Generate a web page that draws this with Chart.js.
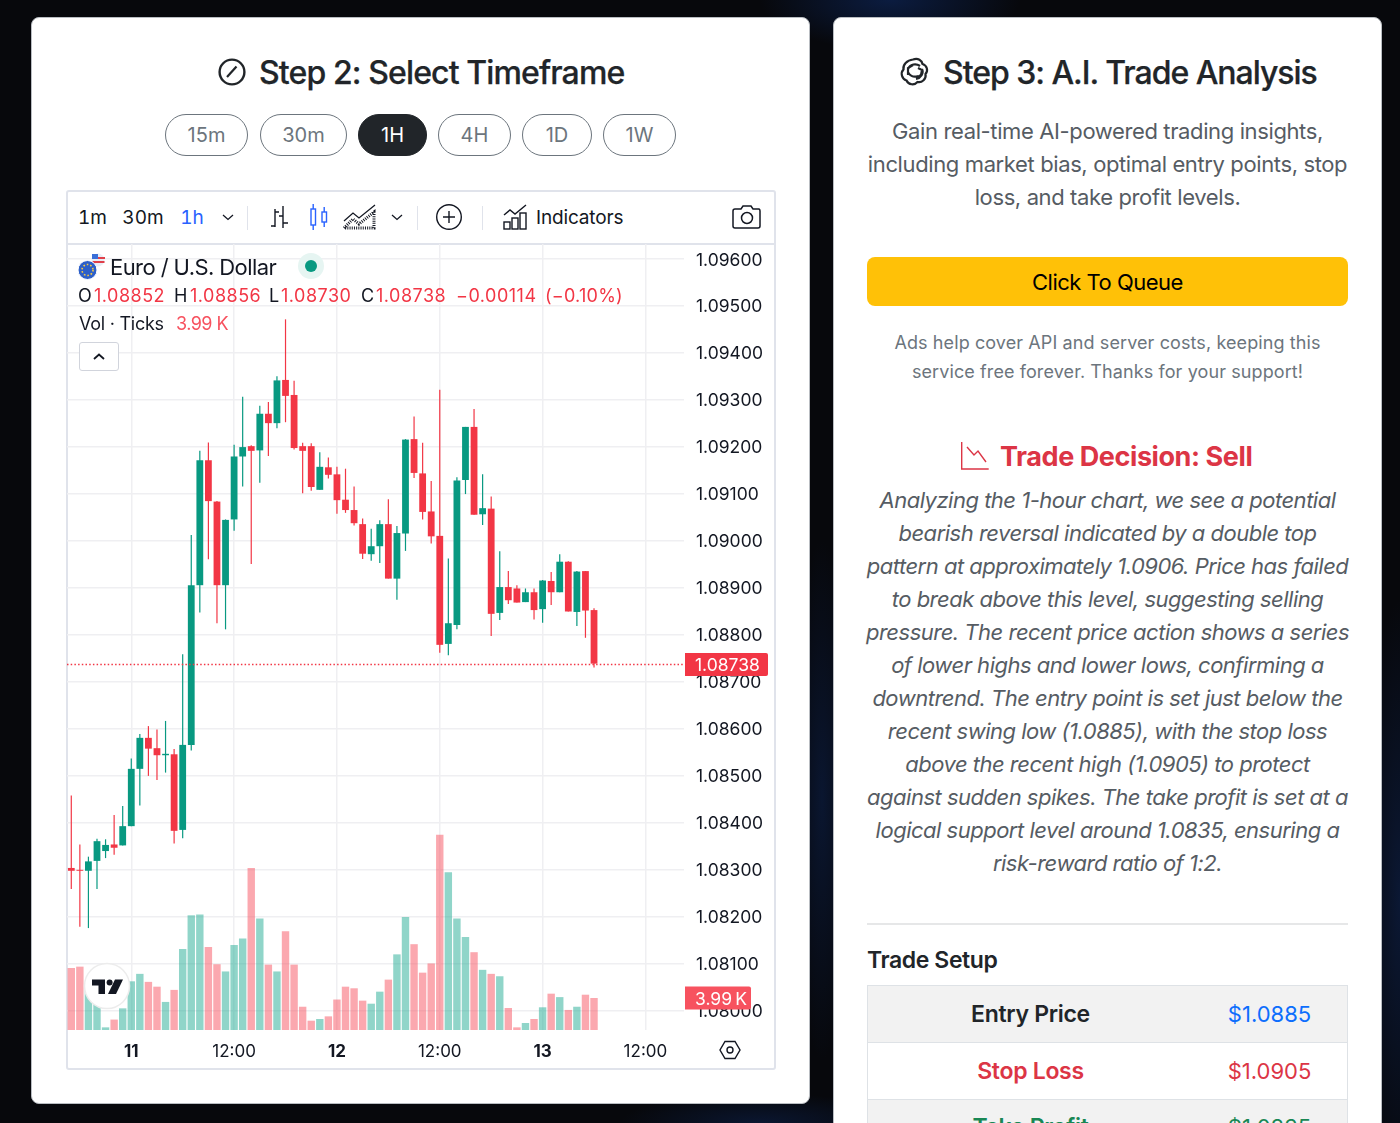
<!DOCTYPE html>
<html><head><meta charset="utf-8">
<script src="https://cdn.jsdelivr.net/npm/chart.js@4"></script>
<style>
*{box-sizing:border-box}
html,body{margin:0;padding:0;width:1400px;height:1123px;overflow:hidden;font-family:Inter,sans-serif}
body{position:relative;background:
 radial-gradient(ellipse 130px 50px at 890px 0px,#0b1c40 0%,transparent 100%),
 radial-gradient(ellipse 40px 300px at 1400px 900px,#0b1834 0%,transparent 100%),
 radial-gradient(ellipse 30px 260px at 822px 800px,#0a1630 0%,transparent 100%),
 radial-gradient(ellipse 140px 30px at 760px 1123px,#0a1630 0%,transparent 100%),
 #07080c}
.card{position:absolute;background:#fff;border:1px solid #b9bdc2;border-radius:8px}
.abs{position:absolute;white-space:nowrap}
.t{position:absolute;white-space:nowrap;transform:translateY(-50%)}
.c{position:absolute;white-space:nowrap;transform:translate(-50%,-50%)}
.title{font-size:32px;font-weight:500;color:#212529;-webkit-text-stroke:.25px #212529}
.pill{position:absolute;top:114px;height:42px;border:1px solid #6c757d;border-radius:21px;color:#6c757d;font-size:20px;display:flex;align-items:center;justify-content:center}
.pill.on{background:#212529;border-color:#212529;color:#fff}
.lead{font-size:22px;color:#565c63;letter-spacing:-.38px}
.it{font-size:22px;color:#565c63;font-style:italic;letter-spacing:-.5px}
.ad{font-size:18px;color:#6c757d;letter-spacing:.1px}
.tb{font-size:19px;color:#131722;font-variant-numeric:tabular-nums}
.lg{font-size:18px;color:#131722;letter-spacing:.5px}
.r{color:#f23645}
.sep{position:absolute;width:1px;background:#e0e3eb;top:206px;height:24px}
.row{position:absolute;left:867px;width:481px;border:1px solid #dee2e6}
.rl{font-size:23px;font-weight:600;letter-spacing:-.3px}
.rv{font-size:22px}
svg{position:absolute;overflow:visible}
canvas{position:absolute;left:0;top:0}
</style></head><body>

<div class="card" style="left:31px;top:17px;width:779px;height:1087px"></div>
<div class="card" style="left:833px;top:17px;width:549px;height:1130px"></div>

<svg style="left:218px;top:58px" width="28" height="28" fill="none" stroke="#212529" stroke-width="2.4"><circle cx="14" cy="14" r="12.4"/><path d="M9 19 L18.5 8.5" stroke-width="2.2"/></svg>
<div class="t title" style="left:259px;top:72px;letter-spacing:-.88px">Step 2: Select Timeframe</div>

<div class="pill" style="left:165px;width:83px">15m</div>
<div class="pill" style="left:260px;width:87px">30m</div>
<div class="pill on" style="left:358px;width:69px">1H</div>
<div class="pill" style="left:438px;width:73px">4H</div>
<div class="pill" style="left:522px;width:70px">1D</div>
<div class="pill" style="left:603px;width:73px">1W</div>

<div style="position:absolute;left:66px;top:190px;width:710px;height:880px;border:2px solid #e0e3eb;border-radius:3px;background:#fff"></div>
<div style="position:absolute;left:67px;top:243px;width:708px;height:2px;background:#e0e3eb"></div>

<div class="c tb" style="left:92.5px;top:217px">1m</div>
<div class="c tb" style="left:143px;top:217px">30m</div>
<div class="c tb" style="left:192px;top:217px;color:#2962ff">1h</div>
<svg style="left:222px;top:214px" width="12" height="7" fill="none" stroke="#131722" stroke-width="1.3"><path d="M1 1l5 4.5 5-4.5"/></svg>
<div class="sep" style="left:247px"></div>
<svg style="left:268px;top:205px" width="22" height="26" fill="none" stroke="#131722" stroke-width="1.4"><path d="M7 4v18M3 21h4M7 7h4M15 1v22M15 18h5M15 11h-4" /></svg>
<svg style="left:309px;top:204px" width="22" height="26" fill="none" stroke="#2962ff" stroke-width="1.4"><rect x="2" y="5" width="4.5" height="16"/><path d="M4.2 0v5M4.2 21v5"/><rect x="13" y="8" width="4.5" height="10"/><path d="M15.2 3v5M15.2 18v5"/></svg>
<svg style="left:343px;top:204px" width="33" height="26" fill="none" stroke="#131722" stroke-width="1.3"><path d="M1 17l9-8 6 5L32 1"/><path d="M1 24l9-9 6 5 15-12v16z" stroke-dasharray="1 1.2" stroke-width="3"/></svg>
<svg style="left:391px;top:214px" width="12" height="7" fill="none" stroke="#131722" stroke-width="1.3"><path d="M1 1l5 4.5 5-4.5"/></svg>
<div class="sep" style="left:417px"></div>
<svg style="left:436px;top:204px" width="26" height="26" fill="none" stroke="#131722" stroke-width="1.4"><circle cx="13" cy="13" r="12.3"/><path d="M13 7v12M7 13h12"/></svg>
<div class="sep" style="left:482px"></div>
<svg style="left:503px;top:204px" width="24" height="26" fill="none" stroke="#131722" stroke-width="1.4"><path d="M1 11l6-5 5 4L23 1"/><rect x="1" y="18" width="6" height="7"/><rect x="9" y="14" width="6" height="11"/><rect x="17" y="9" width="6" height="16"/></svg>
<div class="t tb" style="left:536px;top:217px;letter-spacing:-.15px">Indicators</div>
<svg style="left:732px;top:204px" width="30" height="25" fill="none" stroke="#131722" stroke-width="1.5"><path d="M3 5h6l2-3h8l2 3h6a2 2 0 0 1 1 2v15a2 2 0 0 1-2 2H3a2 2 0 0 1-2-2V7a2 2 0 0 1 2-2z"/><circle cx="15" cy="14" r="5.5"/></svg>

<!-- chart -->
<div style="position:absolute;left:67px;top:244px;width:708px;height:825px"><canvas id="c" width="708" height="825" style="width:708px;height:825px"></canvas></div>

<!-- legend overlay -->
<svg style="left:78px;top:253px" width="27" height="27"><circle cx="20" cy="7" r="6.5" fill="#e9eef6"/><path d="M14 5h13M14.5 9h12" stroke="#e0404a" stroke-width="2"/><rect x="14" y="1" width="6" height="5" fill="#3a6fd8"/><circle cx="9.5" cy="17" r="9.5" fill="#2c5fc9" stroke="#fff" stroke-width="1"/><circle cx="9.5" cy="17" r="5.5" fill="none" stroke="#f6c945" stroke-width="1.6" stroke-dasharray="1.6 1.9"/></svg>
<div class="t" style="left:110px;top:267px;font-size:22px;color:#131722;letter-spacing:-.58px">Euro / U.S. Dollar</div>
<svg style="left:298px;top:253px" width="26" height="26"><circle cx="13" cy="13" r="13" fill="#e6f5f2"/><circle cx="13" cy="13" r="6" fill="#089981"/></svg>
<div class="t lg" style="left:78px;top:295px">O</div><div class="t lg r" style="left:94px;top:295px">1.08852</div>
<div class="t lg" style="left:174px;top:295px">H</div><div class="t lg r" style="left:190px;top:295px">1.08856</div>
<div class="t lg" style="left:269px;top:295px">L</div><div class="t lg r" style="left:281px;top:295px">1.08730</div>
<div class="t lg" style="left:361px;top:295px">C</div><div class="t lg r" style="left:376px;top:295px">1.08738</div>
<div class="t lg r" style="left:456px;top:295px">−0.00114</div><div class="t lg r" style="left:545px;top:295px;letter-spacing:.25px">(−0.10%)</div>
<div class="t lg" style="left:79px;top:323px;letter-spacing:-.25px">Vol · Ticks</div><div class="t lg" style="left:176px;top:323px;color:#f7525f;letter-spacing:-.55px">3.99 K</div>
<div style="position:absolute;left:79px;top:342px;width:40px;height:29px;border:1px solid #d1d4dc;border-radius:3px;background:#fff"></div>
<svg style="left:93px;top:353px" width="12" height="7" fill="none" stroke="#131722" stroke-width="1.8"><path d="M1 6l5-4.5 5 4.5"/></svg>
<!-- logo -->
<svg style="left:84px;top:963px" width="46" height="46"><circle cx="23" cy="23" r="22.5" fill="#fff" stroke="#ececec" stroke-width="1.5"/><g transform="translate(8,15.5)" fill="#131722"><path d="M13 1H0v6h6.5v8.5H13z"/><circle cx="17.6" cy="4" r="3"/><path d="M23 1h8l-7 14.5h-8z"/></g></svg>
<svg style="left:719px;top:1040px" width="22" height="20" fill="none" stroke="#131722" stroke-width="1.4"><path d="M6 1.5h10l5 8.5-5 8.5H6L1 10z"/><circle cx="11" cy="10" r="3"/></svg>

<!-- right card -->
<svg style="left:900px;top:57px" width="30" height="30" fill="none" stroke="#212529" stroke-width="2.2"><path d="M13 2.5c5-2 9 1 9.5 4.5 4.5 1.500 6 6.500 3 10 1 5-3.500 9-8 8-3 3.500-9 3-11-1.500C2 22 0 16 3.500 12.500 2.500 8 7 3 13 2.500z"/><path d="M8 12c2-5 8-6 12-3M22 12c2 4-1 9-6 10M18 19c-5 2-9-1-10-4M13 8l-5 3v7M18 11l4 2-1 5-5 3"/></svg>
<div class="t title" style="left:943px;top:72px;letter-spacing:-1.03px">Step 3: A.I. Trade Analysis</div>
<div class="c lead" style="left:1107.5px;top:131px">Gain real-time AI-powered trading insights,</div>
<div class="c lead" style="left:1107.5px;top:164px">including market bias, optimal entry points, stop</div>
<div class="c lead" style="left:1107.5px;top:197px">loss, and take profit levels.</div>
<div style="position:absolute;left:867px;top:257px;width:481px;height:49px;border-radius:8px;background:#ffc107"></div>
<div class="c" style="left:1107.5px;top:282px;font-size:22px;color:#000;letter-spacing:-.5px">Click To Queue</div>
<div class="c ad" style="left:1107.5px;top:342px">Ads help cover API and server costs, keeping this</div>
<div class="c ad" style="left:1107.5px;top:371px">service free forever. Thanks for your support!</div>
<svg style="left:961px;top:442px" width="28" height="28" fill="none" stroke="#dc3545" stroke-width="1.4"><path d="M.7 0v27h27"/><path d="M6 5l7 8 4-4 8 11"/></svg>
<div class="t" style="left:1000px;top:456px;font-size:27px;font-weight:700;color:#dc3545;letter-spacing:-.42px">Trade Decision: Sell</div>
<div class="c it" style="left:1107.5px;top:500px">Analyzing the 1-hour chart, we see a potential</div>
<div class="c it" style="left:1107.5px;top:533px">bearish reversal indicated by a double top</div>
<div class="c it" style="left:1107.5px;top:566px">pattern at approximately 1.0906. Price has failed</div>
<div class="c it" style="left:1107.5px;top:599px">to break above this level, suggesting selling</div>
<div class="c it" style="left:1107.5px;top:632px">pressure. The recent price action shows a series</div>
<div class="c it" style="left:1107.5px;top:665px">of lower highs and lower lows, confirming a</div>
<div class="c it" style="left:1107.5px;top:698px">downtrend. The entry point is set just below the</div>
<div class="c it" style="left:1107.5px;top:731px">recent swing low (1.0885), with the stop loss</div>
<div class="c it" style="left:1107.5px;top:764px">above the recent high (1.0905) to protect</div>
<div class="c it" style="left:1107.5px;top:797px">against sudden spikes. The take profit is set at a</div>
<div class="c it" style="left:1107.5px;top:830px">logical support level around 1.0835, ensuring a</div>
<div class="c it" style="left:1107.5px;top:863px">risk-reward ratio of 1:2.</div>
<div style="position:absolute;left:867px;top:923px;width:481px;height:2px;background:#e6e7e8"></div>
<div class="t" style="left:867px;top:960px;font-size:23px;font-weight:600;color:#212529;letter-spacing:-.4px">Trade Setup</div>
<div class="row" style="top:985px;height:58px;background:#f2f2f2"></div>
<div class="row" style="top:1042px;height:58px;background:#fff"></div>
<div class="row" style="top:1099px;height:58px;background:#f2f2f2"></div>
<div class="c rl" style="left:1030.5px;top:1014px;color:#212529">Entry Price</div>
<div class="c rv" style="left:1269.5px;top:1014px;color:#0d6efd">$1.0885</div>
<div class="c rl" style="left:1030.5px;top:1070.500px;color:#dc3545">Stop Loss</div>
<div class="c rv" style="left:1269.5px;top:1070.500px;color:#dc3545">$1.0905</div>
<div class="c rl" style="left:1030.5px;top:1127px;color:#198754">Take Profit</div>
<div class="c rv" style="left:1269.5px;top:1127px;color:#198754">$1.0835</div>

<script>
const categories=['10 17','10 18','10 19','10 20','10 21','10 22','10 23',
'11 00','11 01','11 02','11 03','11 04','11 05','11 06','11 07','11 08','11 09','11 10','11 11','11 12','11 13','11 14','11 15','11 16','11 17','11 18','11 19','11 20','11 21','11 22','11 23',
'12 00','12 01','12 02','12 03','12 04','12 05','12 06','12 07','12 08','12 09','12 10','12 11','12 12','12 13','12 14','12 15','12 16','12 17','12 18','12 19','12 20','12 21','12 22','12 23',
'13 00','13 01','13 02','13 03','13 04','13 05','13 06','13 07','13 08','13 09','13 10','13 11','13 12','13 13','13 14','13 15','13 16'];

const opens=[1.08303,1.08299,1.08297,1.08318,1.08339,1.08353,1.08351,
1.08392,1.08514,1.08580,1.08558,1.08543,1.08545,1.08384,1.08565,1.08905,1.09171,1.09083,1.08905,1.09045,1.09179,1.09201,1.09192,1.09270,1.09250,1.09342,1.09310,1.09201,1.09201,1.09108,1.09156,
1.09141,1.09087,1.09065,1.09035,1.08971,1.08988,1.09035,1.08919,1.09015,1.09216,1.09143,1.09062,1.09010,1.08780,1.08820,1.09129,1.09242,1.09056,1.09068,1.08846,1.08901,1.08898,1.08869,1.08890,
1.08854,1.08914,1.08890,1.08955,1.08848,1.08935,1.08852];
const highs=[1.08457,1.08353,1.08327,1.08365,1.08364,1.08416,1.08435,
1.08536,1.08588,1.08605,1.08598,1.08616,1.08556,1.08758,1.09012,1.09191,1.09209,1.09084,1.09045,1.09204,1.09306,1.09203,1.09287,1.09295,1.09350,1.09471,1.09340,1.09208,1.09207,1.09188,1.09177,
1.09157,1.09153,1.09115,1.09047,1.09025,1.09043,1.09088,1.09031,1.09216,1.09264,1.09208,1.09127,1.09321,1.08962,1.09135,1.09242,1.09280,1.09141,1.09094,1.08977,1.08935,1.08905,1.08898,1.08898,
1.08916,1.08933,1.08971,1.08956,1.08935,1.08935,1.08856];
const lows=[1.08258,1.08178,1.08175,1.08258,1.08324,1.08331,1.08351,
1.08392,1.08436,1.08499,1.08490,1.08506,1.08355,1.08366,1.08553,1.08847,1.08960,1.08824,1.08811,1.09021,1.09115,1.08950,1.09123,1.09180,1.09239,1.09252,1.09194,1.09101,1.09106,1.09108,1.09132,
1.09057,1.09059,1.09032,1.08961,1.08957,1.08952,1.08919,1.08874,1.08978,1.09133,1.09045,1.08994,1.08761,1.08756,1.08811,1.09099,1.09055,1.09033,1.08797,1.08831,1.08865,1.08868,1.08869,1.08832,
1.08825,1.08863,1.08890,1.08849,1.08818,1.08793,1.08730];
const closes=[1.08297,1.08297,1.08317,1.08360,1.08352,1.08346,1.08392,
1.08514,1.08580,1.08557,1.08543,1.08546,1.08382,1.08565,1.08905,1.09171,1.09084,1.08905,1.09044,1.09179,1.09199,1.09191,1.09270,1.09250,1.09341,1.09308,1.09197,1.09191,1.09114,1.09157,1.09140,
1.09086,1.09065,1.09037,1.08972,1.08988,1.09035,1.08919,1.09016,1.09215,1.09144,1.09061,1.09009,1.08778,1.08824,1.09128,1.09242,1.09055,1.09069,1.08844,1.08901,1.08873,1.08868,1.08890,1.08852,
1.08915,1.08890,1.08955,1.08849,1.08934,1.08851,1.08738];
const volumesK=[7.73,7.9,5.3,4.5,0.33,1.3,2.7,
6.07,7.0,6.0,5.4,3.5,5.0,10.1,14.3,14.4,10.35,8.2,7.3,10.6,11.4,20.2,13.9,8.15,7.3,12.3,8.15,2.9,1.16,1.37,1.7,
3.8,5.4,5.2,3.66,3.28,4.78,6.28,9.43,14.1,10.7,7.15,8.3,24.35,19.66,13.9,11.6,9.7,7.5,7.0,6.7,2.74,0.33,0.87,1.37,
2.83,4.53,4.1,2.5,2.9,4.4,3.99];
const priceTicks=[1.096,1.095,1.094,1.093,1.092,1.091,1.09,1.089,1.088,1.087,1.086,1.085,1.084,1.083,1.082,1.081,1.08];
const lastPrice=1.08738, lastVolumeK=3.99;

const UP='#089981',DOWN='#f23645',VUP='rgba(34,171,148,.5)',VDOWN='rgba(247,82,95,.5)';
const isUp=i=>closes[i]>=opens[i];
const dirColors=opens.map((_,i)=>isUp(i)?UP:DOWN);
const volColors=opens.map((_,i)=>isUp(i)?VUP:VDOWN);

function tickText(cat){const [d,h]=cat.split(' ');return h==='00'?d:(h==='12'?'12:00':'');}

const tagPlugin={id:'tags',afterDraw(chart){
  const {ctx,chartArea:a,scales:{y,vol}}=chart;
  const py=Math.round(y.getPixelForValue(lastPrice))+.5;
  ctx.save();
  ctx.strokeStyle=DOWN;ctx.lineWidth=1.3;ctx.setLineDash([1.5,2.2]);
  ctx.beginPath();ctx.moveTo(a.left,py);ctx.lineTo(a.right,py);ctx.stroke();
  ctx.setLineDash([]);
  function tag(cy,w,color,text){
    const h=23,x=a.right+1;
    ctx.fillStyle=color;ctx.beginPath();ctx.roundRect(x,cy-h/2,w,h,[0,2,2,0]);ctx.fill();
    ctx.fillStyle='#fff';ctx.font='17.5px Inter';ctx.textBaseline='middle';ctx.textAlign='left';
    ctx.fillText(text,x+10,cy+1.5);
  }
  tag(py,83,DOWN,lastPrice.toFixed(5));
  tag(vol.getPixelForValue(lastVolumeK),66,'#f7525f',lastVolumeK.toFixed(2)+'\u2009K');
  ctx.restore();
}};

const chart=new Chart(document.getElementById('c'),{
  type:'bar',
  plugins:[tagPlugin],
  data:{labels:categories,datasets:[
    {label:'Body',yAxisID:'y',data:opens.map((o,i)=>[o,closes[i]]),backgroundColor:dirColors,barThickness:6.8,order:1},
    {label:'Wick',yAxisID:'y',data:lows.map((l,i)=>[l,highs[i]]),backgroundColor:dirColors,barThickness:1.2,order:2},
    {label:'Vol · Ticks',yAxisID:'vol',data:volumesK,backgroundColor:volColors,barThickness:7.4,order:3}
  ]},
  options:{
    responsive:false,animation:false,
    events:[],
    layout:{padding:0},
    datasets:{bar:{grouped:false,inflateAmount:0,borderWidth:0}},
    plugins:{legend:{display:false},tooltip:{enabled:false}},
    scales:{
      x:{type:'category',offset:true,
        grid:{offset:false,color:'#efeff2',lineWidth:1.5,drawTicks:false},border:{display:false},
        afterBuildTicks(s){s.ticks=s.ticks.filter(t=>tickText(categories[t.value]));},
        ticks:{autoSkip:false,maxRotation:0,minRotation:0,padding:12,color:'#131722',
          callback(v){return tickText(categories[v]);},
          font(c){const t=c.tick&&c.tick.label;return {family:'Inter',size:17,weight:(t&&t!=='12:00')?'700':'400'};}},
        afterFit(s){s.height=39;s.paddingLeft=0;s.paddingRight=0;}
      },
      y:{position:'right',min:1.07958,max:1.096314,
        grid:{color:'#efeff2',lineWidth:1.5,drawTicks:false},border:{display:false},
        afterBuildTicks(s){s.ticks=priceTicks.map(v=>({value:v}));},
        ticks:{padding:12,color:'#131722',font:{family:'Inter',size:17.5},callback(v){return Number(v).toFixed(5);}},
        afterFit(s){s.width=91;s.paddingTop=0;s.paddingBottom=0;}
      },
      vol:{display:false,min:0,max:98,position:'left'}
    }
  }
});
/* Inter's digits sit a little high on the 'middle' baseline: nudge the price labels down */
const yScale=chart.scales.y,drawYLabels=yScale.drawLabels;
yScale.drawLabels=function(a){const g=this.ctx;g.save();g.translate(0,1.5);drawYLabels.call(this,a);g.restore();};
chart.draw();
</script>
</body></html>
